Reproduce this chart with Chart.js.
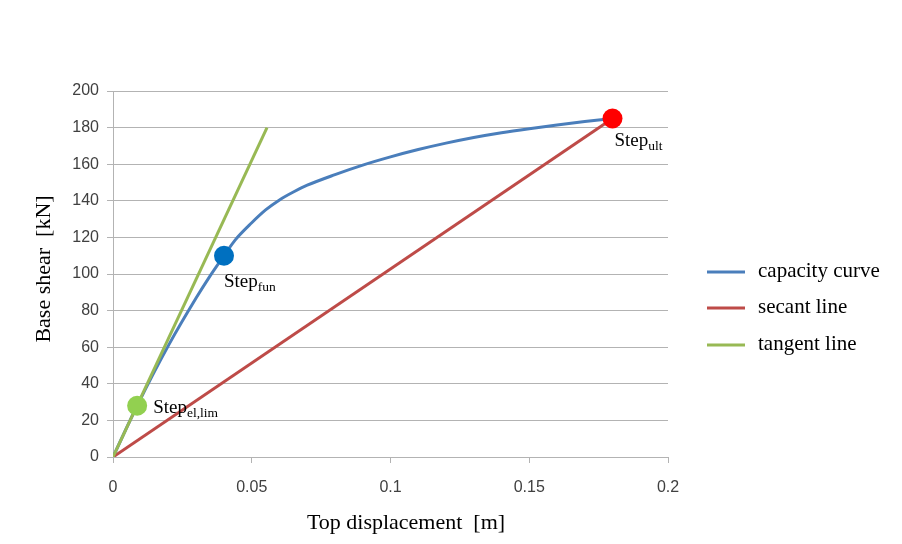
<!DOCTYPE html>
<html>
<head>
<meta charset="utf-8">
<title>Capacity curve</title>
<script src="https://cdn.jsdelivr.net/npm/chart.js@4.4.1/dist/chart.umd.min.js"></script>
<style>
  html, body { margin: 0; padding: 0; background: #fff; }
  #wrap { width: 902px; height: 544px; position: relative; }
</style>
</head>
<body>
<div id="wrap"><canvas id="chart" width="902" height="544"></canvas></div>
<script>
// pushover capacity curve: top displacement [m] vs base shear [kN]
const capDisp  = [0, 0.0087, 0.02, 0.03, 0.035, 0.04, 0.044, 0.05, 0.055, 0.06, 0.065, 0.07, 0.08, 0.09, 0.1, 0.11, 0.12, 0.13, 0.14, 0.15, 0.16, 0.17, 0.18];
const capShear = [0, 28, 61, 87, 99, 110, 118.5, 128, 135, 140.5, 144.8, 148.5, 154.3, 159.5, 164, 168, 171.5, 174.6, 177.2, 179.4, 181.4, 183.3, 185];

const secantDisp  = [0, 0.18];
const secantShear = [0, 185];

const tangentDisp  = [0, 0.0555];
const tangentShear = [0, 180];

// characteristic steps
const stepNames = ["el,lim", "fun", "ult"];
const stepDisp  = [0.0087, 0.04, 0.18];
const stepShear = [28, 110, 185];
const stepColors = ["#92d050", "#0070c0", "#ff0000"];
// label offsets from the marker, in px
const stepLabelOffset = [[16, 7], [0, 31], [2, 28]];

const xTicks = [0, 0.05, 0.1, 0.15, 0.2];
const yMax = 200;

const legendNames = ["capacity curve", "secant line", "tangent line"];
const lineColors = ["#4a7ebb", "#be4b48", "#98b954"];

const toPts = (xs, ys) => xs.map((x, i) => ({ x: x, y: ys[i] }));

const serif = '"Liberation Serif", "DejaVu Serif", serif';
const sans = '"Liberation Sans", Arial, sans-serif';

const stepMarkers = stepNames.map((name, i) => ({
  label: "Step " + name,
  data: [{ x: stepDisp[i], y: stepShear[i] }],
  showLine: false,
  pointRadius: 10,
  pointHoverRadius: 10,
  pointBackgroundColor: stepColors[i],
  pointBorderWidth: 0,
  order: 0,
}));

const annotations = {
  id: "annotations",
  afterDatasetsDraw(chart) {
    const ctx = chart.ctx;
    const xs = chart.scales.x, ys = chart.scales.y;
    ctx.save();
    ctx.fillStyle = "#000";
    ctx.textBaseline = "alphabetic";
    ctx.textAlign = "left";
    stepNames.forEach((name, i) => {
      const px = xs.getPixelForValue(stepDisp[i]) + stepLabelOffset[i][0];
      const py = ys.getPixelForValue(stepShear[i]) + stepLabelOffset[i][1];
      ctx.font = "19px " + serif;
      ctx.fillText("Step", px, py);
      const w = ctx.measureText("Step").width;
      ctx.font = "13.5px " + serif;
      ctx.fillText(name, px + w, py + 4);
    });

    // axis titles
    ctx.font = "22px " + serif;
    ctx.textAlign = "center";
    ctx.textBaseline = "middle";
    ctx.fillText("Top displacement  [m]", 406, 523);
    ctx.save();
    ctx.translate(44, 269);
    ctx.rotate(-Math.PI / 2);
    ctx.fillText("Base shear  [kN]", 0, 0);
    ctx.restore();

    // legend
    const legendY = [272, 308, 345];
    ctx.textAlign = "left";
    ctx.font = "21px " + serif;
    legendNames.forEach((name, i) => {
      ctx.strokeStyle = lineColors[i];
      ctx.lineWidth = 3;
      ctx.beginPath();
      ctx.moveTo(707, legendY[i]);
      ctx.lineTo(745, legendY[i]);
      ctx.stroke();
      ctx.fillStyle = "#000";
      ctx.fillText(name, 758, legendY[i] - 1);
    });
    ctx.restore();
  },
};

new Chart(document.getElementById("chart"), {
  type: "scatter",
  data: {
    datasets: [
      ...stepMarkers,
      {
        label: legendNames[0],
        data: toPts(capDisp, capShear),
        showLine: true,
        borderColor: lineColors[0],
        borderWidth: 3,
        pointRadius: 0,
        cubicInterpolationMode: "monotone",
        order: 3,
      },
      {
        label: legendNames[1],
        data: toPts(secantDisp, secantShear),
        showLine: true,
        borderColor: lineColors[1],
        borderWidth: 3,
        pointRadius: 0,
        order: 2,
      },
      {
        label: legendNames[2],
        data: toPts(tangentDisp, tangentShear),
        showLine: true,
        borderColor: lineColors[2],
        borderWidth: 3,
        pointRadius: 0,
        order: 1,
      },
    ],
  },
  options: {
    responsive: false,
    animation: false,
    layout: { padding: { left: 0, top: 91, right: 234, bottom: 0 } },
    plugins: {
      legend: { display: false },
      tooltip: { enabled: false },
    },
    scales: {
      x: {
        type: "linear",
        min: 0,
        max: 0.2,
        afterBuildTicks: (scale) => { scale.ticks = xTicks.map(v => ({ value: v })); },
        afterFit: (scale) => { scale.height = 87; },
        grid: { drawOnChartArea: false, drawTicks: true, tickLength: 6, color: "#b3b3b3" },
        border: { color: "#b3b3b3" },
        ticks: {
          padding: 15,
          color: "#404040",
          font: { family: sans, size: 16 },
          callback: (v) => String(+v.toFixed(2)),
        },
      },
      y: {
        min: 0,
        max: yMax,
        afterFit: (scale) => { scale.width = 113; },
        grid: { color: "#b3b3b3", tickLength: 6 },
        border: { color: "#b3b3b3" },
        ticks: {
          stepSize: 20,
          padding: 8,
          color: "#404040",
          font: { family: sans, size: 16 },
        },
      },
    },
  },
  plugins: [annotations],
});
</script>
</body>
</html>
